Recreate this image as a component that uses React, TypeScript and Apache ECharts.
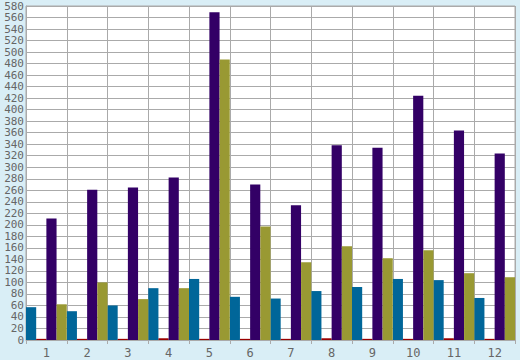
import React, { useEffect, useRef } from "react";
import * as echarts from "echarts";

const categories = ["1", "2", "3", "4", "5", "6", "7", "8", "9", "10", "11", "12"];
const blueValues = [57, 50, 60, 90, 106, 75, 72, 85, 92, 106, 104, 73];
const redValues = [2, 2, 2, 3, 2, 2, 2, 3, 2, 2, 3, 2];
const purpleValues = [211, 261, 265, 282, 569, 270, 234, 338, 334, 424, 364, 324];
const oliveValues = [62, 100, 71, 90, 487, 197, 135, 163, 142, 156, 116, 109];

const gridColor = "#aaaaaa";
const labelFont = "DejaVu Sans Mono";

export default function App() {
  const ref = useRef<HTMLDivElement>(null);
  useEffect(() => {
    if (!ref.current) return;
    const chart = echarts.init(ref.current, null, { renderer: "svg" });
    const mk = (name: string, data: number[], color: string) => ({
      name,
      type: "bar",
      data,
      barGap: "0%",
      barCategoryGap: "0%",
      itemStyle: { color },
    });
    chart.setOption({
      animation: false,
      backgroundColor: "#d9eef6",
      grid: {
        left: 26,
        right: 5,
        top: 6,
        bottom: 20,
        show: true,
        backgroundColor: "#ffffff",
        borderColor: gridColor,
        borderWidth: 1,
      },
      xAxis: {
        type: "category",
        data: categories,
        axisLine: { show: true, lineStyle: { color: gridColor } },
        axisTick: { show: true, length: 4, lineStyle: { color: gridColor } },
        splitLine: { show: true, lineStyle: { color: gridColor } },
        axisLabel: {
          color: "#666666",
          fontFamily: labelFont,
          fontSize: 12,
          margin: 7,
        },
      },
      yAxis: {
        type: "value",
        min: 0,
        max: 580,
        interval: 20,
        axisLine: { show: true, lineStyle: { color: gridColor } },
        axisTick: { show: false },
        splitLine: { show: true, lineStyle: { color: gridColor } },
        axisLabel: {
          color: "#666666",
          fontFamily: labelFont,
          fontSize: 11,
          lineHeight: 11,
          margin: 2,
          showMinLabel: true,
          showMaxLabel: true,
          hideOverlap: false,
        },
      },
      series: [
        mk("blue", blueValues, "#006699"),
        mk("red", redValues, "#990000"),
        mk("purple", purpleValues, "#330066"),
        mk("olive", oliveValues, "#999933"),
      ],
    });
    return () => chart.dispose();
  }, []);
  return <div ref={ref} style={{ width: 520, height: 360, position: "absolute", left: 0, top: 0 }} />;
}
